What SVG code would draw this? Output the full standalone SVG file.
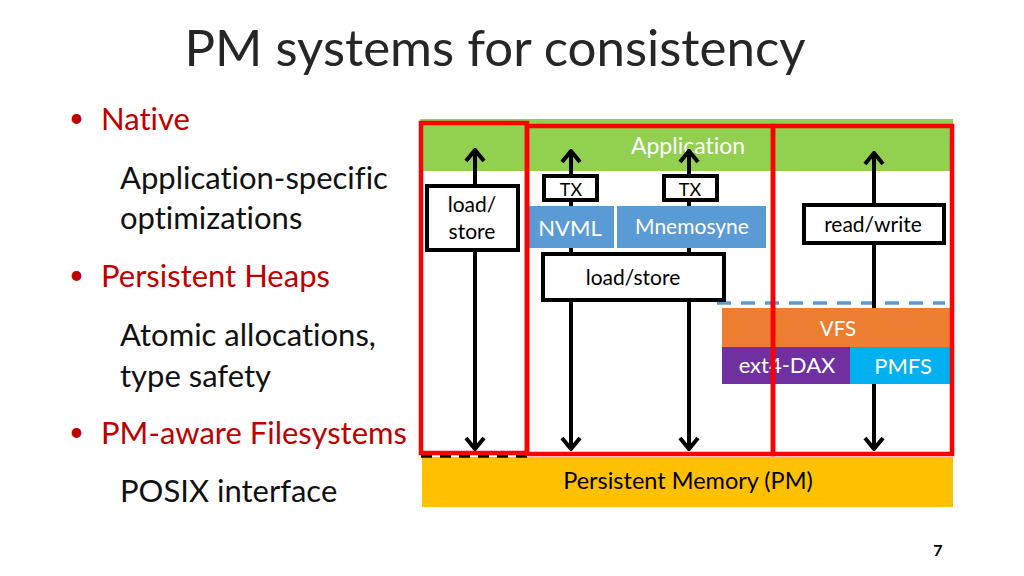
<svg xmlns="http://www.w3.org/2000/svg" width="1024" height="576" viewBox="0 0 1024 576">
<defs>
<marker id="ah" viewBox="-14 -12 16 24" refX="0" refY="0" markerWidth="16" markerHeight="24" markerUnits="userSpaceOnUse" orient="auto-start-reverse">
<path d="M -11 -9 L 0 0 L -11 9" fill="none" stroke="#000" stroke-width="4" stroke-linejoin="miter"/>
</marker>
</defs>
<style>
text{font-family:Lato,"Open Sans","Liberation Sans",sans-serif;font-variant-ligatures:none;font-feature-settings:"liga" 0,"clig" 0,"dlig" 0}
.title{font-size:51px;fill:#262626}
.red{font-size:31px;fill:#C00000}
.body{font-size:31px;fill:#111}
.bul{font-size:26px;fill:#C00000}
.wt{fill:#fff;text-anchor:middle}
.bt{fill:#000;text-anchor:middle}
.box{fill:#fff;stroke:#000;stroke-width:4}
.rb{fill:none;stroke:#FF0000;stroke-width:4.5}
.arr{stroke:#000;stroke-width:4;fill:none;marker-start:url(#ah);marker-end:url(#ah)}
</style>
<rect width="1024" height="576" fill="#fff"/>
<text class="title" x="495" y="66" text-anchor="middle">PM systems for consistency</text>

<g id="bullets">
<text class="bul" x="69" y="127">•</text>
<text class="red" x="101" y="130">Native</text>
<text class="body" x="120" y="189">Application-specific</text>
<text class="body" x="120" y="229">optimizations</text>
<text class="bul" x="69" y="284">•</text>
<text class="red" x="101" y="287">Persistent Heaps</text>
<text class="body" x="120" y="346">Atomic allocations,</text>
<text class="body" x="120" y="387">type safety</text>
<text class="bul" x="69" y="441">•</text>
<text class="red" x="101" y="444">PM-aware Filesystems</text>
<text class="body" x="120" y="502">POSIX interface</text>
</g>

<g id="application">
<rect x="420" y="119" width="533" height="52" fill="#92D050"/>
<text class="wt" x="688" y="154" font-size="23">Application</text>
</g>
<g id="pm">
<rect x="422" y="457" width="531" height="50" fill="#FFC000"/>
<text class="bt" x="688" y="489" font-size="23.5">Persistent Memory (PM)</text>
</g>
<line x1="421" y1="456" x2="527" y2="456" stroke="#000" stroke-width="3.5" stroke-dasharray="11 8"/>
<line x1="717" y1="303" x2="945" y2="303" stroke="#5B9BD5" stroke-width="3.5" stroke-dasharray="14 10"/>

<g id="connectors">
<line class="arr" x1="475" y1="150" x2="475" y2="449"/>
<line class="arr" x1="571" y1="151" x2="571" y2="449"/>
<line class="arr" x1="689" y1="151" x2="689" y2="449"/>
<line class="arr" x1="874" y1="153" x2="874" y2="449"/>
</g>

<g id="vfs">
<rect x="722" y="308" width="229" height="39" fill="#ED7D31"/>
<text class="wt" x="838" y="336" font-size="20.5">VFS</text>
</g>
<g id="ext4dax">
<rect x="722" y="347" width="128" height="37" fill="#7030A0"/>
<text class="wt" x="787" y="373" font-size="22">ext4-DAX</text>
</g>
<g id="pmfs">
<rect x="850" y="347" width="101" height="37" fill="#00B0F0"/>
<text class="wt" x="903" y="374" font-size="22">PMFS</text>
</g>
<g id="nvml">
<rect x="528" y="206" width="86" height="42" fill="#5B9BD5"/>
<text class="wt" x="570" y="236" font-size="22">NVML</text>
</g>
<g id="mnemosyne">
<rect x="617" y="206" width="149" height="42" fill="#5B9BD5"/>
<text class="wt" x="692" y="234" font-size="21">Mnemosyne</text>
</g>
<g id="tx1">
<rect class="box" x="544" y="176" width="53" height="24"/>
<text class="bt" x="571" y="196" font-size="18">TX</text>
</g>
<g id="tx2">
<rect class="box" x="664" y="176" width="53" height="24"/>
<text class="bt" x="690" y="196" font-size="18">TX</text>
</g>
<g id="loadstore1">
<rect class="box" x="427" y="186" width="91" height="64"/>
<text class="bt" x="472" y="212" font-size="21">load/</text>
<text class="bt" x="472" y="239" font-size="21">store</text>
</g>
<g id="loadstore2">
<rect class="box" x="543" y="254" width="181" height="46"/>
<text class="bt" x="633" y="285" font-size="21">load/store</text>
</g>
<g id="readwrite">
<rect class="box" x="804" y="205" width="140" height="38"/>
<text class="bt" x="873" y="232" font-size="21">read/write</text>
</g>

<g id="groups">
<rect class="rb" x="421" y="123" width="106" height="330"/>
<rect class="rb" x="527" y="126" width="246" height="328"/>
<rect class="rb" x="773" y="126" width="179" height="328"/>
</g>

<text x="938" y="556" font-size="16" font-weight="bold" text-anchor="middle" fill="#000">7</text>
</svg>
